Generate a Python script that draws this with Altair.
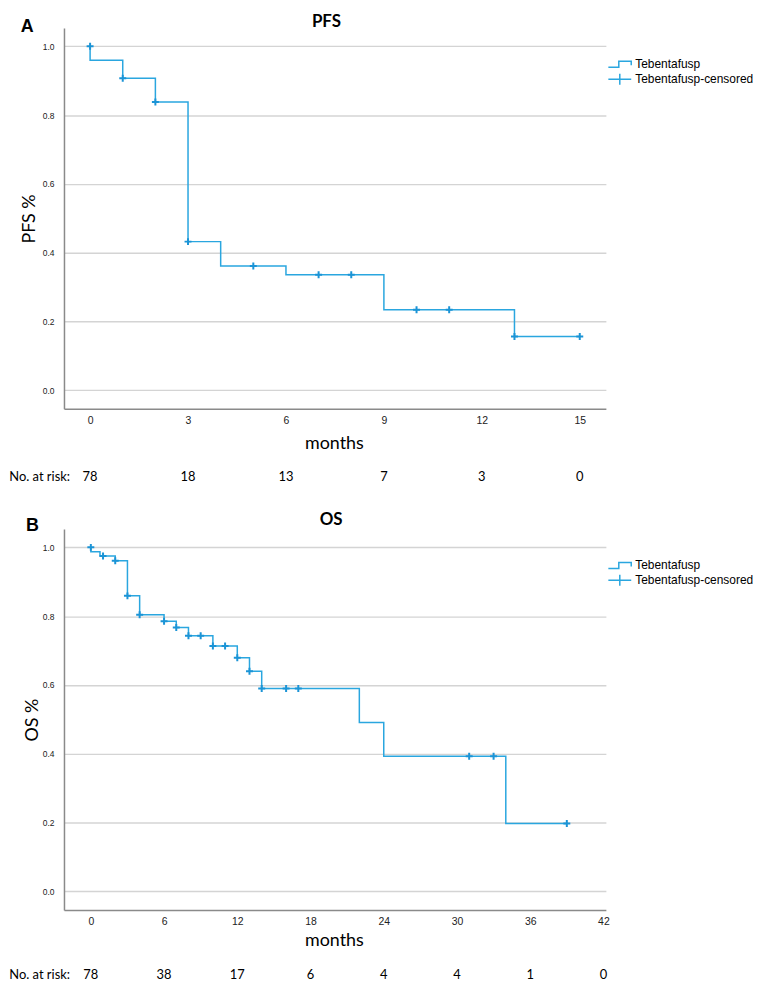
import altair as alt
import pandas as pd

# ---------------- data ----------------
SERIES = ["Tebentafusp", "Tebentafusp-censored"]

# PFS (panel A)
pfs_step_t = [0, 0, 1, 2, 3, 4, 6, 9, 13, 15]
pfs_step_s = [1.0, 0.959, 0.907, 0.838, 0.432, 0.361, 0.336, 0.234, 0.156, 0.156]
pfs_cens_t = [0, 1, 2, 3, 5, 7, 8, 10, 11, 13, 15]
pfs_cens_s = [1.0, 0.907, 0.838, 0.432, 0.361, 0.336, 0.336, 0.234, 0.234, 0.156, 0.156]
pfs_ticks = [0, 3, 6, 9, 12, 15]
pfs_risk = [78, 18, 13, 7, 3, 0]

# OS (panel B)
os_step_t = [0, 0, 0.75, 2, 3, 4, 6, 7, 8, 10, 12, 13, 14, 22, 24, 34, 39]
os_step_s = [1.0, 0.987, 0.975, 0.961, 0.859, 0.804, 0.785, 0.767, 0.743, 0.713,
             0.679, 0.640, 0.590, 0.491, 0.393, 0.197, 0.197]
os_cens_t = [0, 1, 2, 3, 4, 6, 7, 8, 9, 10, 11, 12, 13, 14, 16, 17, 31, 33, 39]
os_cens_s = [1.0, 0.975, 0.961, 0.859, 0.804, 0.785, 0.767, 0.743, 0.743, 0.713,
             0.713, 0.679, 0.640, 0.590, 0.590, 0.590, 0.393, 0.393, 0.197]
os_ticks = [0, 6, 12, 18, 24, 30, 36, 42]
os_risk = [78, 38, 17, 6, 4, 4, 1, 0]

y_ticks = [0.0, 0.2, 0.4, 0.6, 0.8, 1.0]

# ---------------- styling ----------------
LINE_COLOR = "#2aa6df"
CENSOR_COLOR = "#1b94d6"
W, H = 545, 383
Y_DOMAIN = [-0.054, 1.053]
CROSS_SMALL = "M-1,0H1M0,-1V1"
STEP_PATH = "M-2.3,0.6H-0.2V-0.6H2.3V0.2"
CROSS_WIDE = "M-2.3,0H2.3M0,-1.1V1.1"


def panel(title, letter, ylab, step_t, step_s, cens_t, cens_s, ticks, risk, xdom,
          ytitle_x, xtitle_y, letter_x, letter_y, title_x, title_y, risk_y, leg_y):
    xs = alt.Scale(domain=xdom, nice=False, zero=False)
    ys = alt.Scale(domain=Y_DOMAIN, nice=False, zero=False)

    step_df = pd.DataFrame({"t": step_t, "s": step_s, "i": list(range(len(step_t)))})
    cens_df = pd.DataFrame({"t": cens_t, "s": cens_s})
    risk_df = pd.DataFrame({"t": ticks, "n": risk})
    leg_df = pd.DataFrame({"series": SERIES, "t": [0, 0], "s": [1, 1]})

    x_axis = alt.Axis(values=ticks, title="months", grid=False, ticks=False,
                      labelPadding=7, labelFontSize=10.5,
                      titleX=W / 2 - 1, titleY=xtitle_y,
                      titleBaseline="middle", titleAlign="center",
                      titleFont="Lato", titleFontSize=18, titleFontWeight="normal",
                      titleColor="black")
    y_axis = alt.Axis(values=y_ticks, format=".1f", title=ylab, grid=True, ticks=False,
                      labelPadding=10, labelFontSize=8.5,
                      titleX=ytitle_x, titleY=H / 2, titleAngle=270,
                      titleBaseline="middle", titleAlign="center",
                      titleFont="Lato", titleFontSize=18, titleFontWeight="normal",
                      titleColor="black")
    X = alt.X("t:Q", scale=xs, axis=x_axis)
    Y = alt.Y("s:Q", scale=ys, axis=y_axis)

    line = alt.Chart(step_df).mark_line(
        interpolate="step-after", color=LINE_COLOR, strokeWidth=1.5
    ).encode(x=X, y=Y, order=alt.Order("i:Q"))

    cens = alt.Chart(cens_df).mark_point(
        shape=CROSS_SMALL, size=49, filled=False, color=CENSOR_COLOR,
        strokeWidth=2, opacity=1
    ).encode(x=X, y=Y)

    leg = alt.Chart(leg_df).mark_point(
        filled=False, color=LINE_COLOR, strokeWidth=1.5, opacity=0
    ).encode(
        x=X, y=Y,
        shape=alt.Shape(
            "series:N",
            scale=alt.Scale(domain=SERIES, range=[STEP_PATH, CROSS_WIDE]),
            legend=alt.Legend(
                title=None, orient="none", legendX=553, legendY=leg_y,
                symbolSize=100, symbolStrokeWidth=1.5, symbolOpacity=1,
                symbolStrokeColor=LINE_COLOR, symbolFillColor="transparent",
                labelFont="Liberation Sans", labelFontSize=12, labelColor="black",
                labelOffset=9.5, rowPadding=0, padding=0, symbolOffset=0,
            ),
        ),
    )

    risk_txt = alt.Chart(risk_df).mark_text(
        font="Lato", fontSize=13, color="black", baseline="middle"
    ).encode(x=X, y=alt.value(risk_y), text="n:Q")

    risk_lab = alt.Chart(pd.DataFrame({"lab": ["No. at risk:"]})).mark_text(
        font="Lato", fontSize=13, color="black", align="left", baseline="middle"
    ).encode(x=alt.value(-55), y=alt.value(risk_y), text="lab:N")

    title_txt = alt.Chart(pd.DataFrame({"lab": [title]})).mark_text(
        font="Lato", fontSize=17, fontWeight="bold", color="black",
        align="center", baseline="middle"
    ).encode(x=alt.value(title_x), y=alt.value(title_y), text="lab:N")

    letter_txt = alt.Chart(pd.DataFrame({"lab": [letter]})).mark_text(
        font="Liberation Sans", fontSize=18, fontWeight="bold", color="black",
        align="left", baseline="middle"
    ).encode(x=alt.value(letter_x), y=alt.value(letter_y), text="lab:N")

    return alt.layer(line, cens, leg, risk_txt, risk_lab, title_txt, letter_txt).properties(
        width=W, height=H
    )


top = panel("PFS", "A", "PFS %", pfs_step_t, pfs_step_s, pfs_cens_t, pfs_cens_s,
            pfs_ticks, pfs_risk, [-0.8, 15.8],
            ytitle_x=-34.8, xtitle_y=34.5, letter_x=-43.6, letter_y=-0.7,
            title_x=264, title_y=-6.2, risk_y=451.2, leg_y=30.5)
bottom = panel("OS", "B", "OS %", os_step_t, os_step_s, os_cens_t, os_cens_s,
               os_ticks, os_risk, [-2.2, 42.2],
               ytitle_x=-31.5, xtitle_y=30.7, letter_x=-38.3, letter_y=-3.5,
               title_x=268.7, title_y=-8.9, risk_y=448, leg_y=30.5)

chart = alt.vconcat(top, bottom, spacing=121, bounds="flush").resolve_scale(
    shape="independent", x="independent", y="independent"
).resolve_legend(shape="independent").properties(
    padding={"left": 1.3, "top": 1.3, "right": 5, "bottom": 5}
).configure_view(stroke=None).configure_axis(
    domainColor="#8a8a8a", domainWidth=1.5,
    gridColor="#d4d4d4", gridWidth=1.4,
    labelFont="Liberation Sans", labelColor="#222222",
)

chart.save("out.html", embed_options={"renderer": "svg", "actions": False})
